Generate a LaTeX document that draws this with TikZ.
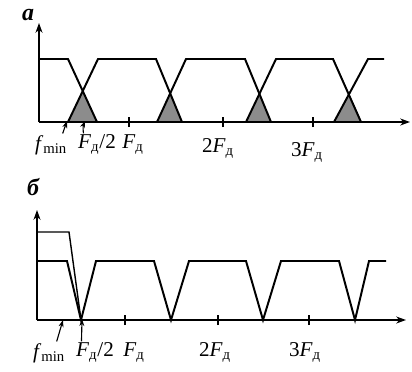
\documentclass[tikz,border=0pt]{standalone}
\usepackage{fontspec}
\setmainfont{Liberation Serif}
\usepackage{tikz}
\usepackage{xcolor}
\usetikzlibrary{positioning,arrows.meta,calc}
\definecolor{AliasGray}{gray}{0.55}
\newcommand{\fmin}{\textit{f}\textsubscript{min}}
\newcommand{\Fd}{\textit{F}\textsubscript{д}}
\newcommand{\ticklabel}[3]{\node[anchor=base] (#1) at (#2) {#3};}

\begin{document}
\begin{tikzpicture}[x=0.025cm,y=0.025cm,
    spec/.style={line width=1.4pt,line join=miter},
    axis/.style={line width=1.1pt,-{Stealth[length=7pt,width=5pt]}},
    pointer/.style={line width=0.8pt,-{Stealth[length=5pt,width=3.5pt]}},
    alias/.style={fill=AliasGray},
    every node/.style={font=\fontsize{15}{18}\selectfont,inner sep=1pt}]
  \useasboundingbox (0,0) rectangle (412,371);

  % a
  \node[font=\fontsize{17}{18}\selectfont\bfseries\itshape] (lblA) at (28,356) {a};
  \fill[alias] (68,249) -- (intersection of 68,312--97,249 and 68,249--98,312) -- (97,249) -- cycle;
  \fill[alias] (157,249) -- (intersection of 156,312--182,249 and 157,249--186,312) -- (182,249) -- cycle;
  \fill[alias] (246,249) -- (intersection of 245,312--271,249 and 246,249--276,312) -- (271,249) -- cycle;
  \fill[alias] (334,249) -- (intersection of 333,312--361,249 and 334,249--368,312) -- (361,249) -- cycle;
  \draw[spec] (39,312) -- (68,312) -- (97,249);
  \draw[spec] (68,249) -- (98,312) -- (156,312) -- (182,249);
  \draw[spec] (157,249) -- (186,312) -- (245,312) -- (271,249);
  \draw[spec] (246,249) -- (276,312) -- (333,312) -- (361,249);
  \draw[spec] (334,249) -- (368,312) -- (384,312);
  \draw[axis] (39,249) -- (39,348);
  \draw[axis] (39,249) -- (410,249);
  \foreach \tx in {129,223,313}
    \draw[line width=1.1pt] (\tx,244) -- (\tx,254);
  \ticklabel{fminA}{51,221}{\fmin}
  \ticklabel{halfA}{97,223}{\Fd/2}
  \ticklabel{oneA}{133,223}{\Fd}
  \ticklabel{twoA}{218,219}{2\Fd}
  \ticklabel{threeA}{307,215}{3\Fd}
  \coordinate (fminTipA) at (67,250);
  \coordinate (halfTipA) at (85,250);
  \draw[pointer] ($(fminA.north east)+(-6,0)$) -- (fminTipA);
  \draw[pointer] ($(halfA.north west)+(7,-1)$) to[bend left=15] (halfTipA);

  % b
  \node[font=\fontsize{17}{18}\selectfont\bfseries\itshape] (lblB) at (33,184) {б};
  \draw[line width=1pt] (37,139) -- (69,139) -- (81,51);
  \draw[spec] (37,110) -- (67,110) -- (81,51) -- (96,110) -- (154,110) -- (171,51)
    -- (189,110) -- (246,110) -- (263,51) -- (281,110) -- (339,110) -- (355,51)
    -- (369,110) -- (386,110);
  \draw[axis] (37,51) -- (37,161);
  \draw[axis] (37,51) -- (406,51);
  \foreach \tx in {125,218,309}
    \draw[line width=1.1pt] (\tx,46) -- (\tx,56);
  \ticklabel{fminB}{49,13}{\fmin}
  \ticklabel{halfB}{95,15}{\Fd/2}
  \ticklabel{oneB}{134,15}{\Fd}
  \ticklabel{twoB}{215,15}{2\Fd}
  \ticklabel{threeB}{305,15}{3\Fd}
  \coordinate (fminTipB) at (63,51);
  \coordinate (halfTipB) at (82,52);
  \draw[pointer] ($(fminB.north east)+(-10,0)$) -- (fminTipB);
  \draw[pointer] ($(halfB.north west)+(7,-1)$) -- (halfTipB);
\end{tikzpicture}
\end{document}
